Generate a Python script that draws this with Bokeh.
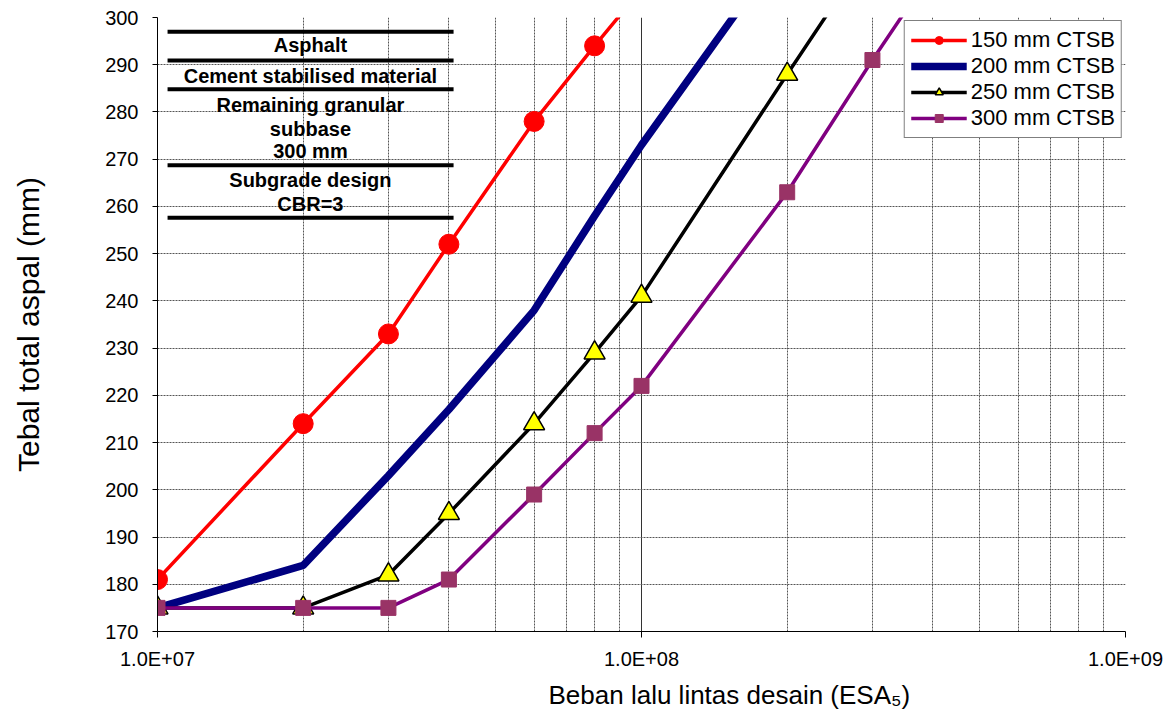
from bokeh.plotting import figure
from bokeh.models import FixedTicker, CustomJSTickFormatter, Range1d, Title
from bokeh.core.properties import value
from bokeh.embed import file_html
from bokeh.resources import INLINE

# ---- data ----
ctsb150_x = [1e7, 2e7, 3e7, 4e7, 6e7, 8e7, 1e8]
ctsb150_y = [181, 214, 233, 252, 278, 294, 306]
ctsb200_x = [1e7, 2e7, 3e7, 4e7, 6e7, 8e7, 1e8, 2e8]
ctsb200_y = [175, 184, 203, 217, 238, 258, 273, 316]
ctsb250_x = [1e7, 2e7, 3e7, 4e7, 6e7, 8e7, 1e8, 2e8, 3e8]
ctsb250_y = [175, 175, 182, 195, 214, 229, 241, 288, 315]
ctsb300_x = [1e7, 2e7, 3e7, 4e7, 6e7, 8e7, 1e8, 2e8, 3e8, 4e8]
ctsb300_y = [175, 175, 175, 181, 199, 212, 222, 263, 291, 310]
series_names = ["150 mm CTSB", "200 mm CTSB", "250 mm CTSB", "300 mm CTSB"]

x_major = [1e7, 1e8, 1e9]
x_minor = [m * d for d in (1e7, 1e8) for m in range(2, 10)]
y_ticks = list(range(170, 301, 10))

# layer sketch (annotation)
layer_text = ["Asphalt", "Cement stabilised material", "Remaining granular",
              "subbase", "300 mm", "Subgrade design", "CBR=3"]
layer_text_y = [294.1, 287.7, 281.4, 276.4, 271.8, 265.5, 260.6]
layer_line_y = [297.0, 290.9, 284.8, 268.7, 257.6]
layer_x0, layer_x1, layer_xc = 1.049e7, 4.09e7, 2.07e7

FONT = "Liberation Sans"

p = figure(width=1175, height=715, x_axis_type="log",
           x_range=Range1d(1e7, 1e9), y_range=Range1d(170, 300),
           output_backend="svg", toolbar_location=None,
           min_border_left=157, min_border_right=50,
           min_border_top=17, min_border_bottom=84)
p.outline_line_color = None
p.background_fill_color = "white"

# axes
p.xaxis.ticker = FixedTicker(ticks=x_major, minor_ticks=x_minor)
p.xaxis.formatter = CustomJSTickFormatter(code="""
const e = Math.round(Math.log10(tick));
return '1.0E+' + (e < 10 ? '0' : '') + e;
""")
p.yaxis.ticker = FixedTicker(ticks=y_ticks)
for ax in (p.xaxis[0], p.yaxis[0]):
    ax.axis_line_color = "black"
    ax.major_tick_line_color = "black"
    ax.major_tick_in = 0
    ax.minor_tick_in = 0
    ax.minor_tick_out = 0
    ax.major_label_text_font = FONT
    ax.major_label_text_font_size = "20px"
    ax.major_label_text_color = "black"
p.xaxis.major_tick_out = 6
p.yaxis.major_tick_out = 5
p.xaxis.major_label_standoff = 10
p.yaxis.major_label_standoff = 14
p.yaxis.axis_label = "Tebal total aspal (mm)"
p.yaxis.axis_label_text_font = FONT
p.yaxis.axis_label_text_font_size = "30px"
p.yaxis.axis_label_text_font_style = "normal"
p.yaxis.axis_label_text_color = "black"
p.yaxis.axis_label_standoff = 57

# grids
p.xgrid.grid_line_color = "#333333"
p.xgrid.grid_line_width = 1
p.xgrid.minor_grid_line_color = "#555555"
p.xgrid.minor_grid_line_dash = "2 1"
p.ygrid.grid_line_color = "#555555"
p.ygrid.grid_line_dash = "2 1"

# layer sketch
p.segment(x0=[layer_x0] * len(layer_line_y), y0=layer_line_y,
          x1=[layer_x1] * len(layer_line_y), y1=layer_line_y,
          line_color="black", line_width=4)
p.text(x=[layer_xc] * len(layer_text), y=layer_text_y, text=layer_text,
       text_font=value(FONT), text_font_style="bold", text_font_size="20px",
       text_align="center", text_baseline="middle", text_color="black")

# series
p.line(ctsb150_x, ctsb150_y, line_color="#FF0000", line_width=3.5, legend_label=series_names[0])
p.scatter(ctsb150_x, ctsb150_y, marker="circle", size=20, fill_color="#FF0000",
          line_color="#FF0000", legend_label=series_names[0])

p.line(ctsb200_x, ctsb200_y, line_color="#000080", line_width=7.5, legend_label=series_names[1])

p.line(ctsb250_x, ctsb250_y, line_color="black", line_width=3.5, legend_label=series_names[2])
p.scatter(ctsb250_x, ctsb250_y, marker="triangle", size=21, fill_color="#FFFF00",
          line_color="black", line_width=1.5, legend_label=series_names[2])

p.line(ctsb300_x, ctsb300_y, line_color="#800080", line_width=3.5, legend_label=series_names[3])
p.scatter(ctsb300_x, ctsb300_y, marker="square", size=15, fill_color="#993366",
          line_color="#993366", legend_label=series_names[3])

# legend
lg = p.legend[0]
lg.location = "top_right"
lg.margin = 3
lg.border_line_color = "black"
lg.border_line_width = 1
lg.background_fill_alpha = 1
lg.label_text_font = FONT
lg.label_text_font_size = "22px"
lg.label_text_color = "black"
lg.glyph_width = 56
lg.glyph_height = 20
lg.label_height = 20
lg.label_standoff = 4
lg.spacing = 0
lg.padding = 6

# x axis title (offset to the right as in the original)
p.add_layout(Title(text="Beban lalu lintas desain (ESA\u2085)", align="left", offset=391,
                   text_font=FONT, text_font_size="26px", text_font_style="normal",
                   text_color="black"), "below")

open("out.html", "w").write(file_html(p, INLINE))
